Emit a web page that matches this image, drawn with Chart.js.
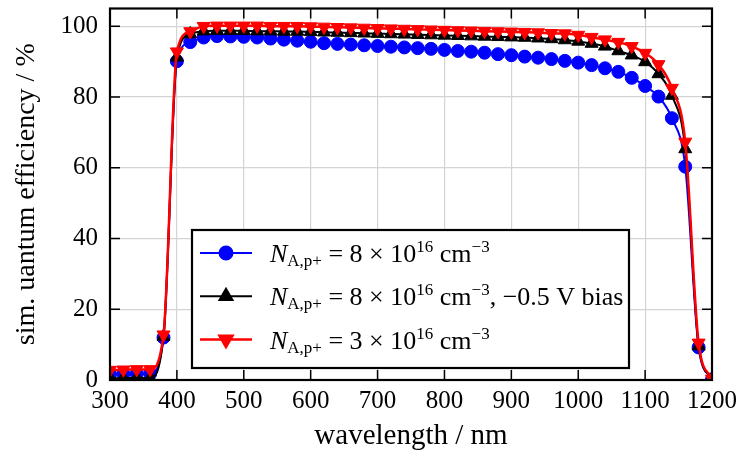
<!DOCTYPE html>
<html lang="en">
<head>
<meta charset="UTF-8">
<title>Simulated quantum efficiency</title>
<script src="https://cdn.jsdelivr.net/npm/chart.js"></script>
<style>
  html, body { margin: 0; padding: 0; background: #fff; }
</style>
</head>
<body>
<canvas id="qe" width="743" height="455"></canvas>
<script>
  // wavelength in nm, one marker every 20 nm
  const wavelengths = [300, 320, 340, 360, 380, 400, 420, 440, 460, 480, 500, 520, 540, 560, 580, 600,
    620, 640, 660, 680, 700, 720, 740, 760, 780, 800, 820, 840, 860, 880, 900, 920, 940, 960, 980, 1000,
    1020, 1040, 1060, 1080, 1100, 1120, 1140, 1160, 1180, 1200];

  // N_A,p+ = 8e16 cm^-3 (blue)
  const qe8e16 = [1.6, 1.7, 1.8, 1.8, 12.0, 90.1, 95.5, 96.8, 97.2, 97.1, 97.0, 96.8, 96.5, 96.2, 95.9, 95.6,
    95.2, 95.0, 94.8, 94.6, 94.4, 94.2, 94.0, 93.8, 93.6, 93.3, 93.0, 92.8, 92.5, 92.1, 91.8, 91.4, 91.1, 90.7, 90.2, 89.7,
    89.0, 88.1, 87.1, 85.4, 83.1, 80.1, 74.0, 60.3, 9.2, 0.2];

  // N_A,p+ = 8e16 cm^-3, -0.5 V bias (black)
  const qe8e16Bias = [0.5, 0.5, 0.6, 0.6, 12.3, 91.2, 97.8, 98.6, 98.7, 98.7, 98.7, 98.6, 98.6, 98.5, 98.5, 98.4,
    98.3, 98.2, 98.1, 98.0, 97.9, 97.8, 97.7, 97.6, 97.5, 97.4, 97.3, 97.2, 97.1, 97.0, 96.9, 96.8, 96.6, 96.4, 96.1, 95.7,
    95.1, 94.3, 93.0, 91.8, 89.9, 86.5, 80.4, 65.3, 9.6, 0.2];

  // N_A,p+ = 3e16 cm^-3 (red)
  const qe3e16 = [2.8, 2.9, 3.0, 3.0, 12.8, 92.8, 98.5, 100.0, 100.1, 100.1, 100.1, 100.1, 100.0, 100.0, 100.0, 99.9,
    99.8, 99.7, 99.6, 99.5, 99.4, 99.3, 99.2, 99.1, 99.0, 98.9, 98.8, 98.7, 98.6, 98.5, 98.4, 98.3, 98.2, 98.0, 97.9, 97.5,
    96.9, 96.2, 95.5, 94.3, 92.4, 89.2, 82.5, 67.3, 10.5, 0.3];

  const xTicks = [300, 400, 500, 600, 700, 800, 900, 1000, 1100, 1200];
  const yTicks = [0, 20, 40, 60, 80, 100];

  // legend text pieces: i = italic, s = sub / sup
  const legendRows = [
    [{t: 'N', i: true}, {t: 'A,p+', s: 'sub'}, {t: ' = 8 × 10'}, {t: '16', s: 'sup'}, {t: ' cm'}, {t: '−3', s: 'sup'}],
    [{t: 'N', i: true}, {t: 'A,p+', s: 'sub'}, {t: ' = 8 × 10'}, {t: '16', s: 'sup'}, {t: ' cm'}, {t: '−3', s: 'sup'}, {t: ', −0.5 V bias'}],
    [{t: 'N', i: true}, {t: 'A,p+', s: 'sub'}, {t: ' = 3 × 10'}, {t: '16', s: 'sup'}, {t: ' cm'}, {t: '−3', s: 'sup'}]
  ];

  const FONT = "'Liberation Serif', 'Times New Roman', serif";

  function pts(ys) {
    return wavelengths.map((x, i) => ({x, y: ys[i]}));
  }

  function drawRich(ctx, parts, x, y) {
    for (const p of parts) {
      const size = p.s ? 17 : 26;
      ctx.font = (p.i ? 'italic ' : '') + size + 'px ' + FONT;
      const dy = p.s === 'sub' ? 4 : (p.s === 'sup' ? -10 : 0);
      ctx.fillText(p.t, x, y + dy);
      x += ctx.measureText(p.t).width;
    }
  }

  // no extra room for edge labels, keeps the plot box where it is in the figure
  function noEdgePadding(s) {
    s.paddingTop = 0; s.paddingBottom = 0; s.paddingLeft = 0; s.paddingRight = 0;
  }

  // black frame with inward ticks on all four sides
  const framePlugin = {
    id: 'frame',
    afterDatasetsDraw(chart) {
      const {ctx, chartArea: a, scales} = chart;
      ctx.save();
      ctx.strokeStyle = '#000';
      ctx.lineWidth = 1.5;
      ctx.beginPath();
      xTicks.forEach(v => {
        const px = scales.x.getPixelForValue(v);
        ctx.moveTo(px, a.bottom); ctx.lineTo(px, a.bottom - 10);
        ctx.moveTo(px, a.top); ctx.lineTo(px, a.top + 10);
      });
      yTicks.forEach(v => {
        const py = scales.y.getPixelForValue(v);
        ctx.moveTo(a.left, py); ctx.lineTo(a.left + 10, py);
        ctx.moveTo(a.right, py); ctx.lineTo(a.right - 10, py);
      });
      ctx.stroke();
      ctx.lineWidth = 2.2;
      ctx.strokeRect(a.left, a.top, a.right - a.left, a.bottom - a.top);
      ctx.restore();
    }
  };

  // legend box drawn inside the plot
  const legendPlugin = {
    id: 'richLegend',
    afterDraw(chart) {
      const {ctx, chartArea: a} = chart;
      const left = a.left + 82, top = 230, right = a.left + 519, bottom = 368;
      ctx.save();
      ctx.fillStyle = '#fff';
      ctx.fillRect(left, top, right - left, bottom - top);
      ctx.strokeStyle = '#000';
      ctx.lineWidth = 2.2;
      ctx.strokeRect(left, top, right - left, bottom - top);
      chart.data.datasets.forEach((ds, i) => {
        const cy = top + 23 + i * 43.3;
        ctx.strokeStyle = ds.borderColor;
        ctx.lineWidth = ds.borderWidth;
        ctx.beginPath();
        ctx.moveTo(left + 8, cy); ctx.lineTo(left + 60, cy);
        ctx.stroke();
        ctx.fillStyle = ds.pointBackgroundColor;
        ctx.strokeStyle = ds.pointBorderColor;
        Chart.helpers.drawPoint(ctx, {
          pointStyle: ds.pointStyle, radius: ds.pointRadius,
          rotation: ds.pointRotation || 0, borderWidth: ds.pointBorderWidth
        }, left + 34, cy);
        ctx.fillStyle = '#000';
        ctx.textBaseline = 'alphabetic';
        drawRich(ctx, legendRows[i], left + 78, cy + 9);
      });
      ctx.restore();
    }
  };

  const common = {
    fill: false,
    cubicInterpolationMode: 'monotone',
    pointBorderWidth: 1,
    clip: 0
  };

  new Chart(document.getElementById('qe'), {
    type: 'line',
    data: {
      datasets: [
        Object.assign({}, common, {
          label: 'N_A,p+ = 8e16 cm^-3',
          data: pts(qe8e16),
          borderColor: '#0000ff', borderWidth: 2,
          pointStyle: 'circle', pointRadius: 6.5,
          pointBackgroundColor: '#0000ff', pointBorderColor: '#0000ff',
          order: 3
        }),
        Object.assign({}, common, {
          label: 'N_A,p+ = 8e16 cm^-3, -0.5 V bias',
          data: pts(qe8e16Bias),
          borderColor: '#000000', borderWidth: 2,
          pointStyle: 'triangle', pointRadius: 7.5,
          pointBackgroundColor: '#000000', pointBorderColor: '#000000',
          order: 2
        }),
        Object.assign({}, common, {
          label: 'N_A,p+ = 3e16 cm^-3',
          data: pts(qe3e16),
          borderColor: '#ff0000', borderWidth: 2.5,
          pointStyle: 'triangle', pointRadius: 7.5, pointRotation: 180,
          pointBackgroundColor: '#ff0000', pointBorderColor: '#ff0000',
          order: 1
        })
      ]
    },
    options: {
      responsive: false,
      animation: false,
      layout: { padding: { top: 8, right: 31, left: 0, bottom: 0 } },
      plugins: {
        legend: { display: false },
        tooltip: { enabled: false }
      },
      scales: {
        x: {
          type: 'linear', min: 300, max: 1200,
          afterFit: s => { s.height = 75; noEdgePadding(s); },
          afterBuildTicks: s => { s.ticks = xTicks.map(v => ({value: v})); },
          ticks: { color: '#000', padding: 6, maxRotation: 0, autoSkip: false, callback: v => String(v),
                   font: { family: FONT, size: 25 } },
          grid: { color: '#d4d4d4', lineWidth: 1.2, drawTicks: false },
          border: { display: false },
          title: { display: true, text: 'wavelength / nm', color: '#000', font: { family: FONT, size: 29 }, padding: { top: 0, bottom: 1 } }
        },
        y: {
          min: 0, max: 105,
          afterFit: s => { s.width = 110; noEdgePadding(s); },
          afterBuildTicks: s => { s.ticks = yTicks.map(v => ({value: v})); },
          ticks: { color: '#000', padding: 12, callback: v => String(v), font: { family: FONT, size: 25 } },
          grid: { color: '#d4d4d4', lineWidth: 1.2, drawTicks: false },
          border: { display: false },
          title: { display: true, text: 'sim. uantum efficiency / %', color: '#000', font: { family: FONT, size: 28 }, padding: { top: 10, bottom: 0 } }
        }
      }
    },
    plugins: [framePlugin, legendPlugin]
  });
</script>
</body>
</html>
